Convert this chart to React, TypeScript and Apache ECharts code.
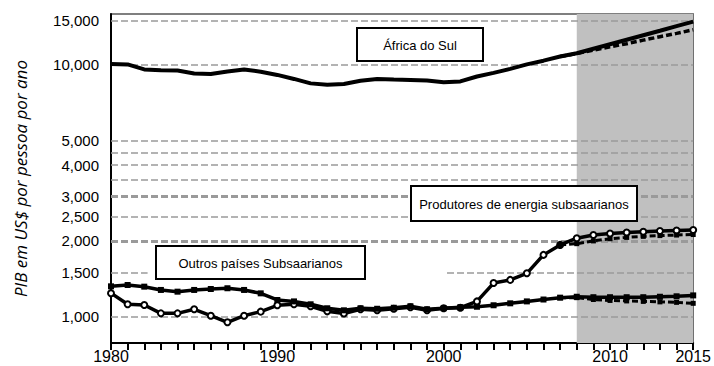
import { useEffect, useRef } from "react";
import * as echarts from "echarts";

const years = [
  1980, 1981, 1982, 1983, 1984, 1985, 1986, 1987, 1988, 1989,
  1990, 1991, 1992, 1993, 1994, 1995, 1996, 1997, 1998, 1999,
  2000, 2001, 2002, 2003, 2004, 2005, 2006, 2007, 2008, 2009,
  2010, 2011, 2012, 2013, 2014, 2015,
];

const southAfrica = [
  10100, 10050, 9600, 9520, 9500, 9250, 9200, 9420, 9600, 9400,
  9130, 8800, 8450, 8350, 8400, 8650, 8800, 8750, 8720, 8680,
  8540, 8600, 9000, 9300, 9650, 10050, 10400, 10800, 11130, 11600,
  12090, 12600, 13130, 13680, 14260, 14860,
];

const energyProducers = [
  1240, 1120, 1113, 1031, 1031, 1070, 1009, 950, 1009, 1047,
  1110, 1120, 1100, 1050, 1030, 1070, 1060, 1075, 1090, 1060,
  1080, 1085, 1150, 1360, 1400, 1487, 1760, 1928, 2050, 2110,
  2140, 2160, 2175, 2190, 2200, 2210,
];

const otherSubSaharan = [
  1320, 1336, 1316, 1277, 1257, 1277, 1288, 1297, 1277, 1238,
  1165, 1150, 1120, 1080, 1060, 1080, 1075, 1085, 1100, 1070,
  1080, 1090, 1095, 1110, 1130, 1150, 1170, 1190, 1200, 1195,
  1195, 1195, 1195, 1200, 1205, 1215,
];

const projectionYears = [2007, 2008, 2009, 2010, 2011, 2012, 2013, 2014, 2015];
const southAfricaProjection = [10800, 11100, 11450, 11800, 12150, 12550, 12950, 13350, 13800];
const energyProjection = [1930, 1950, 2000, 2040, 2065, 2085, 2100, 2110, 2120];
const otherProjection = [1190, 1190, 1170, 1160, 1155, 1150, 1145, 1140, 1130];

const gridValues = [1000, 2000, 2500, 3000, 3500, 4000, 4500, 5000, 10000, 15000];
const gridLabels = ["1,000", "2,000", "2,500", "3,000", "", "4,000", "", "5,000", "10,000", "15,000"];
const gridHeavy = [2000, 3000];
const xLabelYears = [1980, 1990, 2000, 2010, 2015];
const shadeRange = [2008, 2015];

const pairs = (xs: number[], ys: number[]) => xs.map((x, i) => [x, ys[i]]);

const FONT = "'Liberation Sans', Arial, sans-serif";

export default function App() {
  const ref = useRef<HTMLDivElement>(null);

  useEffect(() => {
    if (!ref.current) return;
    const chart = echarts.init(ref.current, null, { renderer: "svg" });

    const gridColor = "#9a9a9a";
    const markLineData: any[] = gridValues.map((v, i) => ({
      yAxis: v,
      label: { formatter: gridLabels[i] },
      lineStyle: {
        color: gridColor,
        type: [7, 3],
        width: gridHeavy.includes(v) ? 3 : 1.5,
      },
    }));
    markLineData.push([
      { coord: [1980, 1500], label: { formatter: "1,500" }, lineStyle: { color: gridColor, type: [7, 3], width: 1.5 } },
      { coord: [1982.2, 1500] },
    ]);
    markLineData.push([
      { coord: [2000.2, 1500], label: { show: false }, lineStyle: { color: gridColor, type: [7, 3], width: 1.5 } },
      { coord: [2015, 1500] },
    ]);

    const lineBase = {
      type: "line" as const,
      z: 5,
      silent: true,
    };

    const box = (left: number, top: number, w: number, h: number, text: string) => ({
      type: "group",
      left,
      top,
      z: 100,
      children: [
        { type: "rect", z: 100, shape: { x: 0, y: 0, width: w, height: h }, style: { fill: "#fff", stroke: "#000", lineWidth: 2 } },
        { type: "text", z: 101, x: w / 2, y: h / 2 + 1, style: { text, fill: "#000", font: `13px ${FONT}`, align: "center", verticalAlign: "middle" } },
      ],
    });

    chart.setOption({
      animation: false,
      grid: {
        left: 111,
        right: 18,
        top: 14,
        bottom: 23,
        show: true,
        borderColor: "#555",
        borderWidth: 1.5,
        backgroundColor: "transparent",
      },
      xAxis: {
        type: "value",
        min: 1980,
        max: 2015,
        interval: 1,
        axisLine: { show: true, lineStyle: { color: "#000", width: 2 } },
        axisTick: { show: true, inside: false, length: 7, lineStyle: { color: "#000", width: 2 } },
        splitLine: { show: false },
        axisLabel: {
          show: true,
          color: "#000",
          fontSize: 16,
          fontFamily: FONT,
          margin: 5,
          showMinLabel: true,
          showMaxLabel: true,
          formatter: (v: number) => (xLabelYears.includes(Math.round(v)) ? String(Math.round(v)) : ""),
        },
      },
      yAxis: {
        type: "log",
        logBase: 10,
        min: 786,
        max: 15940,
        axisLine: { show: true, lineStyle: { color: "#000", width: 2 } },
        axisTick: { show: false },
        axisLabel: { show: false },
        splitLine: { show: false },
        minorSplitLine: { show: false },
        name: "PIB em US$ por pessoa por ano",
        nameLocation: "middle",
        nameRotate: 90,
        nameGap: 82,
        nameTextStyle: {
          fontFamily: "'Open Sans', 'Noto Sans', sans-serif",
          fontStyle: "italic",
          fontSize: 17,
          color: "#000",
        },
      },
      series: [
        {
          type: "line",
          data: [],
          z: 1,
          silent: true,
          markArea: {
            silent: true,
            itemStyle: { color: "#c0c0c0" },
            data: [[{ xAxis: shadeRange[0] }, { xAxis: shadeRange[1] }]],
          },
        },
        {
          type: "line",
          data: [],
          z: 2,
          silent: true,
          markLine: {
            silent: true,
            symbol: "none",
            animation: false,
            label: {
              show: true,
              position: "start",
              distance: 12,
              color: "#000",
              fontSize: 15,
              fontFamily: FONT,
            },
            data: markLineData,
          },
        },
        {
          ...lineBase,
          name: "África do Sul",
          data: pairs(years, southAfrica),
          symbol: "none",
          lineStyle: { color: "#000", width: 4 },
        },
        {
          ...lineBase,
          name: "África do Sul projeção",
          data: pairs(projectionYears, southAfricaProjection),
          symbol: "none",
          lineStyle: { color: "#000", width: 3.5, type: [6, 3] },
        },
        {
          ...lineBase,
          name: "Produtores de energia subsaarianos",
          data: pairs(years, energyProducers),
          symbol: "emptyCircle",
          symbolSize: 6,
          itemStyle: { color: "#000", borderWidth: 2 },
          lineStyle: { color: "#000", width: 3.5 },
        },
        {
          ...lineBase,
          name: "Produtores projeção",
          data: pairs(projectionYears, energyProjection),
          symbol: "rect",
          symbolSize: 5,
          itemStyle: { color: "#000" },
          lineStyle: { color: "#000", width: 3, type: [6, 3] },
        },
        {
          ...lineBase,
          name: "Outros países Subsaarianos",
          data: pairs(years, otherSubSaharan),
          symbol: "rect",
          symbolSize: 6,
          itemStyle: { color: "#000" },
          lineStyle: { color: "#000", width: 3.5 },
        },
        {
          ...lineBase,
          name: "Outros projeção",
          data: pairs(projectionYears, otherProjection),
          symbol: "rect",
          symbolSize: 5,
          itemStyle: { color: "#000" },
          lineStyle: { color: "#000", width: 3, type: [6, 3] },
        },
      ],
      graphic: [
        box(356, 27, 126, 33, "África do Sul"),
        box(410, 185, 226, 35, "Produtores de energia subsaarianos"),
        box(155, 245, 209, 33, "Outros países Subsaarianos"),
      ],
    });

    return () => chart.dispose();
  }, []);

  return <div ref={ref} style={{ width: 714, height: 366, position: "absolute", left: 0, top: 0 }} />;
}
